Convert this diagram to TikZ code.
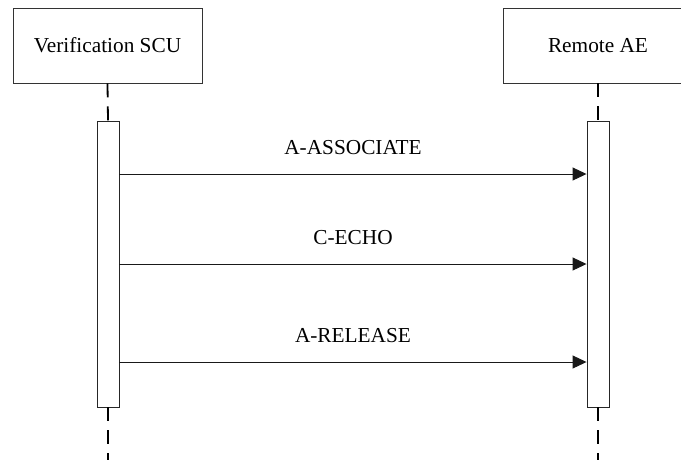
\documentclass[tikz,border=0pt]{standalone}
\usepackage{fontspec}
\setmainfont{Liberation Serif}
\usetikzlibrary{arrows.meta}
\begin{document}
\begin{tikzpicture}[x=1pt,y=-1pt,
  every node/.style={font=\fontsize{21.3}{25}\selectfont},
  actor/.style={draw=black!80, line width=0.9pt, minimum width=189pt, minimum height=75pt, inner sep=0pt},
  actbar/.style={draw=black!85, line width=0.9pt, fill=white, minimum width=22pt, minimum height=286pt, inner sep=0pt},
  lifeline/.style={draw=black, line width=1.8pt, dash pattern=on 14pt off 9pt},
  msg/.style={draw=black!90, line width=0.9pt, -{Triangle[length=14pt,width=13pt]}},
  msglabel/.style={above=19pt, inner sep=0pt, anchor=south}]
\useasboundingbox (0,0) rectangle (681,459);
\clip (0,0) rectangle (681,459);
\node[actor] (scu) at (107.5,45.5) {Verification SCU};
\node[actor] (ae) at (598,45.5) {Remote AE};
\coordinate (scuend) at (108,470);
\coordinate (aeend) at (598,470);
\node[actbar] (barL) at (108,264) {};
\node[actbar] (barR) at (598,264) {};
\draw[lifeline] (scu.south) -- (barL.north);
\draw[lifeline] (ae.south) -- (barR.north);
\draw[lifeline] (barL.south) -- (scuend);
\draw[lifeline] (barR.south) -- (aeend);
\draw[msg] (barL.east |- 0,174) -- node[msglabel] {A-ASSOCIATE} (barR.west |- 0,174);
\draw[msg] (barL.east |- 0,264) -- node[msglabel] {C-ECHO} (barR.west |- 0,264);
\draw[msg] (barL.east |- 0,362) -- node[msglabel] {A-RELEASE} (barR.west |- 0,362);
\end{tikzpicture}
\end{document}
